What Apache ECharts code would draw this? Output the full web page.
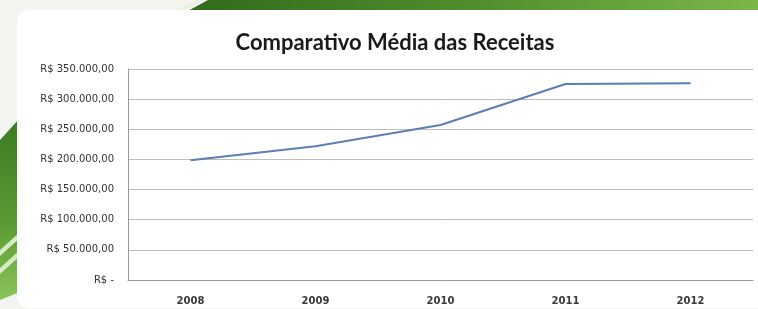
<!DOCTYPE html>
<html>
<head>
<meta charset="utf-8">
<script src="https://cdn.jsdelivr.net/npm/echarts@6/dist/echarts.min.js"></script>
<style>
  html, body { margin: 0; padding: 0; background: #f3f5f1; }
  #chart { width: 758px; height: 309px; }
</style>
</head>
<body>
<div id="chart"></div>
<script>
var years = ['2008', '2009', '2010', '2011', '2012']
var receitas = [198500, 222000, 257000, 325000, 326500]
var yTicks = { min: 0, max: 350000, interval: 50000 }

function formatReal(v) {
  if (v === 0) return 'R$ -'
  var s = String(Math.round(v)).replace(/\B(?=(\d{3})+(?!\d))/g, '.')
  return 'R$ ' + s + ',00'
}

var chart = echarts.init(document.getElementById('chart'))
chart.setOption({
  animation: false,
  backgroundColor: '#f3f5f1',
  graphic: [
    // faixa verde no topo
    {
      type: 'polygon', z: -10,
      shape: { points: [[186, 12], [208, 0], [758, 0], [758, 12]] },
      style: {
        fill: new echarts.graphic.LinearGradient(0, 0, 1, 0, [
          { offset: 0, color: '#2f6b1c' },
          { offset: 0.5, color: '#4f8f2c' },
          { offset: 1, color: '#7bb648' }
        ])
      }
    },
    {
      type: 'polygon', z: -9,
      shape: { points: [[174, 12], [196, 0], [204, 0], [182, 12]] },
      style: { fill: '#e8f2dc' }
    },
    // faixa verde a esquerda
    {
      type: 'polygon', z: -10,
      shape: { points: [[0, 140], [20, 118], [20, 292], [0, 300]] },
      style: {
        fill: new echarts.graphic.LinearGradient(0, 0, 0, 1, [
          { offset: 0, color: '#3c7a22' },
          { offset: 0.6, color: '#5c9c34' },
          { offset: 1, color: '#8cc45a' }
        ])
      }
    },
    {
      type: 'polygon', z: -9,
      shape: { points: [[0, 250], [20, 232], [20, 238], [0, 256]] },
      style: { fill: '#d6ebc2' }
    },
    {
      type: 'polygon', z: -9,
      shape: { points: [[0, 268], [20, 250], [20, 256], [0, 274]] },
      style: { fill: '#d6ebc2' }
    },
    // painel branco
    {
      type: 'rect', z: -5,
      shape: { x: 17, y: 10, width: 760, height: 298, r: [12, 0, 0, 12] },
      style: { fill: '#ffffff' }
    }
  ],
  title: {
    text: 'Comparativo Média das Receitas',
    left: 390,
    textAlign: 'center',
    top: 27,
    textStyle: {
      fontFamily: 'Lato',
      fontWeight: 'bold',
      fontSize: 22,
      color: '#1a1a1a'
    }
  },
  grid: {
    left: 128,
    right: 5,
    top: 69,
    bottom: 29
  },
  xAxis: {
    type: 'category',
    boundaryGap: true,
    data: years,
    axisTick: { show: false },
    axisLine: { lineStyle: { color: '#9a9a9a', width: 1 } },
    axisLabel: {
      margin: 16,
      fontFamily: 'DejaVu Sans',
      fontWeight: 'bold',
      fontSize: 10,
      color: '#3a3a3a'
    }
  },
  yAxis: {
    type: 'value',
    min: yTicks.min,
    max: yTicks.max,
    interval: yTicks.interval,
    axisLine: { show: true, lineStyle: { color: '#9a9a9a', width: 1 } },
    axisTick: { show: false },
    splitLine: { lineStyle: { color: '#bdbdbd', width: 1 } },
    axisLabel: {
      margin: 14,
      fontFamily: 'DejaVu Sans',
      fontSize: 10,
      color: '#333333',
      formatter: formatReal
    }
  },
  series: [
    {
      type: 'line',
      data: receitas,
      symbol: 'none',
      lineStyle: { color: '#5b7fb0', width: 2 }
    }
  ]
})
</script>
</body>
</html>
